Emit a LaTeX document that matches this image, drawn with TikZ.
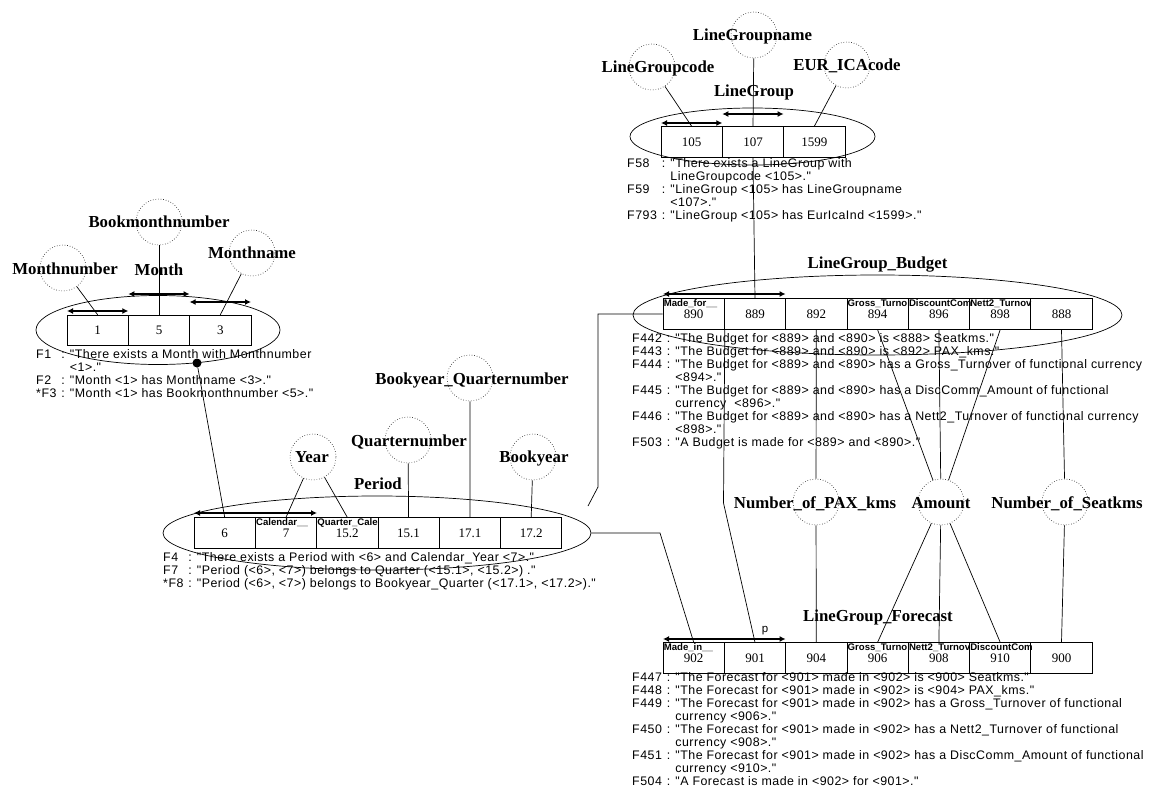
\documentclass[tikz,border=0pt]{standalone}
\usepackage{fontspec}
\usetikzlibrary{shapes.geometric,arrows.meta}
\newfontfamily\factf[LetterSpace=4]{Liberation Sans}
\newfontfamily\lblf{Liberation Serif}
\newfontfamily\valf{Liberation Serif}
\newfontfamily\tagf{Liberation Sans}
\tikzset{
  valbox/.style={draw, line width=0.9pt, minimum width=61.3pt, minimum height=30.5pt, inner sep=0pt, font=\valf\fontsize{13}{13}\selectfont},
  attr/.style={draw, dotted, circle, minimum size=46pt, inner sep=0pt, line width=0.6pt},
  lbl/.style={font=\lblf\bfseries\fontsize{16.8}{16.8}\selectfont, inner sep=0pt, text height=11pt, text depth=0pt},
  obj/.style={draw, ellipse, inner sep=0pt, line width=0.7pt},
  uniq/.style={{Latex[length=6pt,width=6pt]}-{Latex[length=6pt,width=6pt]}, line width=1.2pt},
  facts/.style={anchor=north west, inner sep=0pt, font=\factf\fontsize{12.4}{13}\selectfont},
  tag/.style={anchor=north west, inner sep=1pt, font=\tagf\bfseries\fontsize{9.6}{9.6}\selectfont},
  conn/.style={line width=0.7pt},
}
\begin{document}
\begin{tikzpicture}[x=1pt,y=-1pt]
\useasboundingbox (0,0) rectangle (1152,795);

% ---------------- Month ----------------
\node[obj, minimum width=244pt, minimum height=69pt] (mell) at (158,330) {};
\node[valbox] (m1) at (97.7,330.5) {1};
\node[valbox] (m2) at (159,330.5) {5};
\node[valbox] (m3) at (220.3,330.5) {3};
\coordinate (mb1a) at (67,311); \coordinate (mb1b) at (128.3,311);
\coordinate (mb2a) at (128.3,294); \coordinate (mb2b) at (189.6,294);
\coordinate (mb3a) at (189.6,302); \coordinate (mb3b) at (251,302);
\draw[uniq] (mb1a) -- (mb1b);
\draw[uniq] (mb2a) -- (mb2b);
\draw[uniq] (mb3a) -- (mb3b);
\node[attr] (cmn) at (63,268) {};
\node[attr] (cbm) at (159,222) {};
\node[attr] (cmname) at (252,253) {};
\node[lbl] (tmn) at (65,269) {Monthnumber};
\node[lbl] (tbm) at (159,222) {Bookmonthnumber};
\node[lbl] (tmname) at (252,253) {Monthname};
\node[lbl] (tmonth) at (159,270) {Month};
\draw[conn] (cmn) -- (m1.north);
\draw[conn] (cbm) -- (m2.north);
\draw[conn] (cmname) -- (m3.north);
\node[facts] (fm) at (36,349) {\begin{tabular}{@{}l@{\hspace{5pt}}l@{\hspace{5pt}}l@{}}
F1 & : & "There exists a Month with Monthnumber\\
 & & <1>."\\
F2 & : & "Month <1> has Monthname <3>."\\
{*}F3 & : & "Month <1> has Bookmonthnumber <5>."
\end{tabular}};

% ---------------- Period ----------------
\node[obj, minimum width=428pt, minimum height=74pt] (pell) at (377,533) {};
\node[valbox] (p1) at (224.7,533) {6};
\node[valbox] (p2) at (286,533) {7};
\node[valbox] (p3) at (347.3,533) {15.2};
\node[valbox] (p4) at (408.6,533) {15.1};
\node[valbox] (p5) at (469.9,533) {17.1};
\node[valbox] (p6) at (531.2,533) {17.2};
\node[tag] (tp2) at (p2.north west) {Calendar\_\_};
\node[tag] (tp3) at (p3.north west) {Quarter\_Cale};
\coordinate (pba) at (194,513); \coordinate (pbb) at (317,513);
\draw[uniq] (pba) -- (pbb);
\node[attr] (cyear) at (313,457) {};
\node[attr] (cqn) at (408,440) {};
\node[attr] (cbyq) at (470,378) {};
\node[attr] (cby) at (533,457) {};
\node[lbl] (tyear) at (312,457) {Year};
\node[lbl] (tqn) at (409,441) {Quarternumber};
\node[lbl] (tbyq) at (472,379) {Bookyear\_Quarternumber};
\node[lbl] (tby) at (534,457) {Bookyear};
\node[lbl] (tperiod) at (378,484) {Period};
\draw[conn] (cyear) -- (p2.north);
\draw[conn] (cyear) -- (p3.north);
\draw[conn] (cqn) -- (p4.north);
\draw[conn] (cbyq) -- (p5.north);
\draw[conn] (cby) -- (p6.north);
\node[facts] (fp) at (163,552) {\begin{tabular}{@{}l@{\hspace{5pt}}l@{\hspace{5pt}}l@{}}
F4 & : & "There exists a Period with <6> and Calendar\_Year <7>."\\
F7 & : & "Period (<6>, <7>) belongs to Quarter (<15.1>, <15.2>) ."\\
{*}F8 & : & "Period (<6>, <7>) belongs to Bookyear\_Quarter (<17.1>, <17.2>)."
\end{tabular}};

% Month -> Period
\node[circle, fill=black, inner sep=0pt, minimum size=9pt] (dot) at (197,363) {};
\draw[conn] (dot) -- (p1.north);

% ---------------- LineGroup ----------------
\node[obj, minimum width=245pt, minimum height=57pt] (lgell) at (752.5,136.5) {};
\node[valbox] (lg1) at (691.7,142) {105};
\node[valbox] (lg2) at (753,142) {107};
\node[valbox] (lg3) at (814.3,142) {1599};
\coordinate (lb1a) at (661,123); \coordinate (lb1b) at (722.3,123);
\coordinate (lb2a) at (722.3,114); \coordinate (lb2b) at (783.6,114);
\draw[uniq] (lb1a) -- (lb1b);
\draw[uniq] (lb2a) -- (lb2b);
\node[attr] (clgc) at (652,67) {};
\node[attr] (clgn) at (754,35) {};
\node[attr] (ceur) at (847,65) {};
\node[lbl] (tlgc) at (658,67) {LineGroupcode};
\node[lbl] (tlgn) at (752.5,35) {LineGroupname};
\node[lbl] (teur) at (847,65) {EUR\_ICAcode};
\node[lbl] (tlg) at (754,91) {LineGroup};
\draw[conn] (clgc) -- (lg1.north);
\draw[conn] (clgn) -- (lg2.north);
\draw[conn] (ceur) -- (lg3.north);
\node[facts] (flg) at (627,158) {\begin{tabular}{@{}l@{\hspace{5pt}}l@{\hspace{5pt}}l@{}}
F58 & : & "There exists a LineGroup with\\
 & & LineGroupcode <105>."\\
F59 & : & "LineGroup <105> has LineGroupname\\
 & & <107>."\\
F793 & : & "LineGroup <105> has EurIcaInd <1599>."
\end{tabular}};

% ---------------- LineGroup_Budget ----------------
\node[obj, minimum width=489pt, minimum height=80pt] (bell) at (877.5,315) {};
\node[valbox] (b1) at (693.7,314) {890};
\node[valbox] (b2) at (755,314) {889};
\node[valbox] (b3) at (816.3,314) {892};
\node[valbox] (b4) at (877.6,314) {894};
\node[valbox] (b5) at (938.9,314) {896};
\node[valbox] (b6) at (1000.2,314) {898};
\node[valbox] (b7) at (1061.5,314) {888};
\node[tag] (tb1) at (b1.north west) {Made\_for\_\_};
\node[tag] (tb4) at (b4.north west) {Gross\_Turno};
\node[tag] (tb5) at (b5.north west) {DiscountCom};
\node[tag] (tb6) at (b6.north west) {Nett2\_Turnov};
\coordinate (bba) at (663,294); \coordinate (bbb) at (785.6,294);
\draw[uniq] (bba) -- (bbb);
\node[lbl] (tbud) at (877.5,263) {LineGroup\_Budget};
\node[facts] (fb) at (632,333) {\begin{tabular}{@{}l@{\hspace{5pt}}l@{\hspace{5pt}}l@{}}
F442 & : & "The Budget for <889> and <890> is <888> Seatkms."\\
F443 & : & "The Budget for <889> and <890> is <892> PAX\_kms."\\
F444 & : & "The Budget for <889> and <890> has a Gross\_Turnover of functional currency\\
 & & <894>."\\
F445 & : & "The Budget for <889> and <890> has a DiscComm\_Amount of functional\\
 & & currency \ <896>."\\
F446 & : & "The Budget for <889> and <890> has a Nett2\_Turnover of functional currency\\
 & & <898>."\\
F503 & : & "A Budget is made for <889> and <890>."
\end{tabular}};
\draw[conn] (lg2.south) -- (b2.north);

% ---------------- LineGroup_Forecast ----------------
\node[valbox] (f1) at (693.7,658) {902};
\node[valbox] (f2) at (755,658) {901};
\node[valbox] (f3) at (816.3,658) {904};
\node[valbox] (f4) at (877.6,658) {906};
\node[valbox] (f5) at (938.9,658) {908};
\node[valbox] (f6) at (1000.2,658) {910};
\node[valbox] (f7) at (1061.5,658) {900};
\node[tag] (tf1) at (f1.north west) {Made\_in\_\_};
\node[tag] (tf4) at (f4.north west) {Gross\_Turno};
\node[tag] (tf5) at (f5.north west) {Nett2\_Turnov};
\node[tag] (tf6) at (f6.north west) {DiscountCom};
\coordinate (fba) at (663,639); \coordinate (fbb) at (785.6,639);
\draw[uniq] (fba) -- (fbb);
\node[font=\tagf\fontsize{11.5}{11.5}\selectfont, inner sep=0pt] (tpp) at (765,631) {p};
\node[lbl] (tfor) at (878,616) {LineGroup\_Forecast};
\node[facts] (ff) at (632,672) {\begin{tabular}{@{}l@{\hspace{5pt}}l@{\hspace{5pt}}l@{}}
F447 & : & "The Forecast for <901> made in <902> is <900> Seatkms."\\
F448 & : & "The Forecast for <901> made in <902> is <904> PAX\_kms."\\
F449 & : & "The Forecast for <901> made in <902> has a Gross\_Turnover of functional\\
 & & currency <906>."\\
F450 & : & "The Forecast for <901> made in <902> has a Nett2\_Turnover of functional\\
 & & currency <908>."\\
F451 & : & "The Forecast for <901> made in <902> has a DiscComm\_Amount of functional\\
 & & currency <910>."\\
F504 & : & "A Forecast is made in <902> for <901>."
\end{tabular}};

% ---------------- value types between Budget and Forecast ----------------
\node[attr] (cpax) at (816,502) {};
\node[attr] (camt) at (941,502) {};
\node[attr] (cseat) at (1065,502) {};
\node[lbl] (tpax) at (815,503) {Number\_of\_PAX\_kms};
\node[lbl] (tamt) at (941,503) {Amount};
\node[lbl] (tseat) at (1067,503) {Number\_of\_Seatkms};
\draw[conn] (b3.south) -- (cpax);
\draw[conn] (cpax) -- (f3.north);
\draw[conn] (b4.south) -- (camt);
\draw[conn] (b5.south) -- (camt);
\draw[conn] (b6.south) -- (camt);
\draw[conn] (camt) -- (f4.north);
\draw[conn] (camt) -- (f5.north);
\draw[conn] (camt) -- (f6.north);
\draw[conn] (b7.south) -- (cseat);
\draw[conn] (cseat) -- (f7.north);

% ---------------- role connectors ----------------
\coordinate (pr1) at (588,506);
\coordinate (pr2) at (598,487);
\draw[conn] (pr1) -- (pr2) |- (b1.west);
\coordinate (pr3) at (660,533);
\draw[conn] (pell.east) -- (pr3) -- (f1.north);
\coordinate (lr1) at (723.5,503);
\draw[conn] (b1.south east) -- (lr1) -- (f2.north);
\end{tikzpicture}
\end{document}
